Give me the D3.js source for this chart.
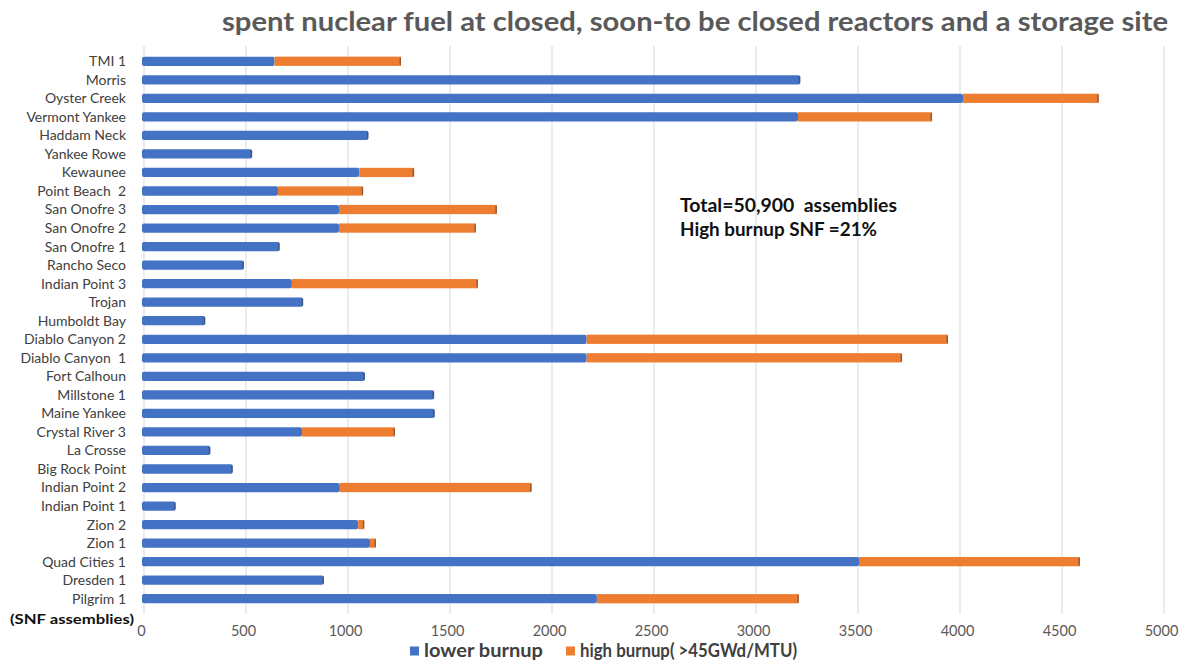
<!DOCTYPE html>
<html>
<head>
<meta charset="utf-8">
<script src="https://cdn.jsdelivr.net/npm/d3@7/dist/d3.min.js"></script>
<style>
  html, body { margin: 0; padding: 0; background: #fff; }
  svg { display: block; }
</style>
</head>
<body>
<svg id="chart" width="1180" height="662"></svg>
<script>
const categories = ["TMI 1","Morris","Oyster Creek","Vermont Yankee","Haddam Neck","Yankee Rowe","Kewaunee","Point Beach  2","San Onofre 3","San Onofre 2","San Onofre 1","Rancho Seco","Indian Point 3","Trojan","Humboldt Bay","Diablo Canyon 2","Diablo Canyon  1","Fort Calhoun","Millstone 1","Maine Yankee","Crystal River 3","La Crosse","Big Rock Point","Indian Point 2","Indian Point 1","Zion 2","Zion 1","Quad Cities 1","Dresden 1","Pilgrim 1"];
const lowerBurnup = [640, 3217, 4015, 3206, 1100, 530, 1055, 657, 956, 956, 665, 490, 725, 780, 300, 2170, 2170, 1083, 1422, 1425, 775, 325, 435, 960, 155, 1050, 1108, 3505, 882, 2220];
const highBurnup = [620, 0, 665, 657, 0, 0, 269, 417, 774, 671, 0, 0, 912, 0, 0, 1771, 1546, 0, 0, 0, 455, 0, 0, 940, 0, 30, 29, 1083, 0, 990];
const xTicks = [0, 500, 1000, 1500, 2000, 2500, 3000, 3500, 4000, 4500, 5000];
const seriesNames = ["lower burnup", "high burnup( >45GWd/MTU)"];
const colors = ["#4472C4", "#ED7D31"];
const titleText = "spent nuclear fuel at closed, soon-to be closed reactors and a storage site";
const noteLines = ["Total=50,900  assemblies", "High burnup SNF =21%"];
const unitLabel = "(SNF assemblies)";

const svg = d3.select("#chart");
const font = "Lato, 'Open Sans', sans-serif";

const x = d3.scaleLinear().domain([0, 5000]).range([144, 1164]);
const y = d3.scaleBand().domain(categories).range([52, 608]).paddingInner(0.5).paddingOuter(0.25);

// gridlines
svg.append("g").selectAll("line").data(xTicks).join("line")
  .attr("x1", d => x(d)).attr("x2", d => x(d))
  .attr("y1", 46).attr("y2", 614)
  .attr("stroke", "#d9d9d9").attr("stroke-width", 1);

// bars
const rows = categories.map((c, i) => ({ c, lo: lowerBurnup[i], hi: highBurnup[i] }));
const bh = y.bandwidth();
const g = svg.append("g");
g.selectAll("rect.lo").data(rows).join("rect")
  .attr("class", "lo")
  .attr("x", x(0) - 2)
  .attr("y", d => y(d.c))
  .attr("width", d => x(d.lo) - x(0) + 2)
  .attr("height", bh)
  .attr("rx", 2)
  .attr("fill", colors[0]);
g.selectAll("rect.hi").data(rows.filter(d => d.hi > 0)).join("rect")
  .attr("class", "hi")
  .attr("x", d => x(d.lo))
  .attr("y", d => y(d.c))
  .attr("width", d => x(d.lo + d.hi) - x(d.lo))
  .attr("height", bh)
  .attr("fill", colors[1]);
// dark end caps
g.selectAll("rect.cap").data(rows).join("rect")
  .attr("class", "cap")
  .attr("x", d => x(d.lo + d.hi) - 1.5)
  .attr("y", d => y(d.c) + 1)
  .attr("width", 1.5)
  .attr("height", bh - 2)
  .attr("fill", "#3a3a3a").attr("opacity", 0.5);

// y labels
svg.append("g").selectAll("text").data(categories).join("text")
  .attr("x", 126)
  .attr("y", d => y(d) + bh / 2)
  .attr("dy", "0.35em")
  .attr("text-anchor", "end")
  .attr("font-family", font)
  .attr("font-size", 14)
  .attr("fill", "#404040")
  .style("white-space", "pre")
  .text(d => d);

// x tick labels via axis
const xAxis = d3.axisBottom(x).tickValues(xTicks).tickSize(0).tickPadding(0).tickFormat(d3.format("d"));
const ax = svg.append("g").attr("transform", "translate(-3,626)").call(xAxis);
ax.select(".domain").remove();
ax.selectAll("text")
  .attr("font-family", font)
  .attr("font-size", 14.5)
  .attr("fill", "#595959");

// unit label
svg.append("text")
  .attr("x", 10).attr("y", 624)
  .attr("font-family", font).attr("font-size", 14).attr("font-weight", "bold")
  .attr("fill", "#111")
  .attr("textLength", 124).attr("lengthAdjust", "spacingAndGlyphs")
  .text(unitLabel);

// title
svg.append("text")
  .attr("x", 222).attr("y", 31)
  .attr("font-family", font).attr("font-size", 26).attr("font-weight", "bold")
  .attr("fill", "#595959")
  .attr("textLength", 946).attr("lengthAdjust", "spacingAndGlyphs")
  .text(titleText);

// note
const noteWidths = [217, 197];
svg.append("g").selectAll("text").data(noteLines).join("text")
  .attr("x", 680).attr("y", (d, i) => 212 + i * 24)
  .attr("font-family", font).attr("font-size", 19).attr("font-weight", "bold")
  .attr("fill", "#111")
  .attr("textLength", (d, i) => noteWidths[i]).attr("lengthAdjust", "spacingAndGlyphs")
  .style("white-space", "pre")
  .text(d => d);

// legend
const legendX = [410, 566];
const legendW = [119, 217];
const lg = svg.append("g").selectAll("g").data(seriesNames).join("g")
  .attr("transform", (d, i) => `translate(${legendX[i]},651)`);
lg.append("rect").attr("x", 0).attr("y", -4.5).attr("width", 9).attr("height", 9)
  .attr("fill", (d, i) => colors[i]);
lg.append("text").attr("x", 14).attr("y", 0).attr("dy", "0.36em")
  .attr("font-family", font).attr("font-size", 18).attr("font-weight", "bold")
  .attr("fill", "#404040")
  .attr("textLength", (d, i) => legendW[i]).attr("lengthAdjust", "spacingAndGlyphs")
  .text(d => d);
</script>
</body>
</html>
